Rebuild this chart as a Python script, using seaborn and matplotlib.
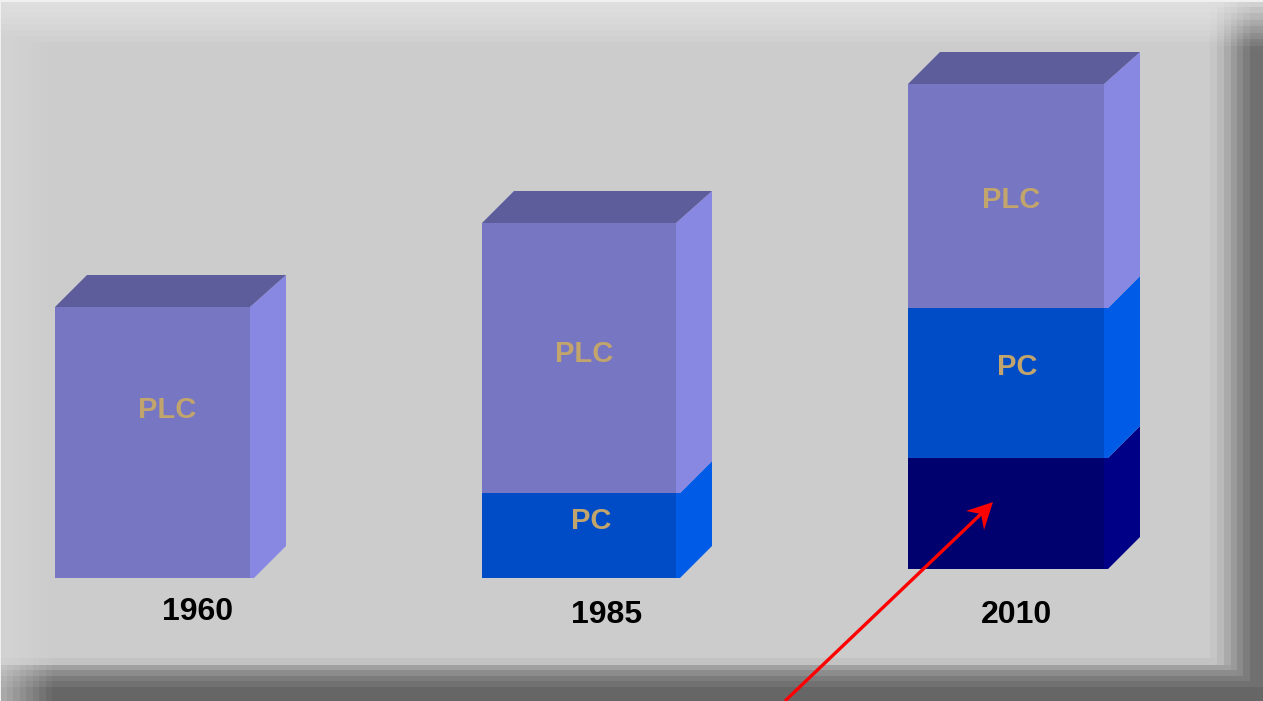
import numpy as np
import pandas as pd
import matplotlib
matplotlib.use("Agg")
import matplotlib.pyplot as plt
from matplotlib.patches import Polygon
import seaborn as sns

# ---- data (unit = one pixel of height)
years = ["1960", "1985", "2010"]
plc_values = [271, 270, 224]
pc_values = [0, 85, 150]
new_values = [0, 0, 111]
segment_names = ["new", "PC", "PLC"]

# ---- layout and style
W, H = 1263, 701
lefts = [55, 482, 908]
bar_widths = [195, 194, 196]
baselines = [578, 578, 569]
year_xy = [(198, 612), (606.5, 615), (1016, 615)]
label_xy = {("1960", "PLC"): (167.5, 410), ("1985", "PLC"): (584.5, 354), ("1985", "PC"): (591, 521),
            ("2010", "PLC"): (1011, 200), ("2010", "PC"): (1017.5, 367)}
front = {"PLC": "#7676C3", "PC": "#004CC6", "new": "#00006E"}
side = {"PLC": "#8888E3", "PC": "#005BE6", "new": "#000086"}
top_col = "#5D5D9B"
label_col = "#C2A56C"
strip, depth_x, depth_y = 4, 32, 32

sns.set_theme(style="white")
plt.rcParams["font.family"] = ["Liberation Sans", "DejaVu Sans"]

fig = plt.figure(figsize=(W / 100, H / 100), dpi=100)
ax = fig.add_axes([0, 0, 1, 1])

# ---- bevelled backdrop


def band(dist, edges, amounts):
    out = np.zeros_like(dist, dtype=float)
    for e, a in zip(edges, amounts):
        out[dist < e] = a
    return out


xx, yy = np.meshgrid(np.arange(W), np.arange(H))
base = 204.0
lt = band(yy, [42, 36, 30, 24, 18, 12, 6], [4, 7, 10, 13, 15, 17, 18])
ll = band(xx, [47, 40, 33, 26, 19, 12, 6], [1, 2, 3, 4, 5, 6, 6])
dr = band(W - 1 - xx, [53, 46, 39, 32, 26, 20, 13], [6, 18, 34, 50, 66, 80, 92])
db = band(H - 1 - yy, [43, 36, 31, 25, 20, 14], [8, 44, 64, 80, 90, 102])
# shadows fade in steps towards the lit corners
fade_r = 0.15 + 0.85 * np.minimum(yy // 6.5 * 6.5, 46) / 46
fade_b = 0.4 + 0.6 * np.minimum(xx // 6.5 * 6.5, 50) / 50
img = base + np.maximum(lt, ll) - np.maximum(dr * fade_r, db * fade_b)
img[:2, :] = 240
img[:, :1] = 240
ax.imshow(img, cmap="gray", vmin=0, vmax=255, extent=(0, W, 0, H), aspect="auto", zorder=0, interpolation="nearest")

# ---- stacked blocks
df = pd.DataFrame({"year": years, "new": new_values, "PC": pc_values, "PLC": plc_values})
df["left"] = lefts
df["w"] = bar_widths
df["base"] = [H - b for b in baselines]

for _, row in df.iterrows():
    bottom = row["base"]
    left, right = row["left"], row["left"] + row["w"]
    center = (left + right) / 2
    for name in segment_names:
        h = row[name]
        if h <= 0:
            continue
        sns.barplot(x=[center], y=[h], native_scale=True, width=row["w"], bottom=bottom,
                    color=front[name], saturation=1, linewidth=0, ax=ax, zorder=3)
        top = bottom + h
        outline = [(right, top), (right + strip + depth_x, top + depth_y),
                   (right + strip + depth_x, bottom + depth_y), (right + strip, bottom), (right, bottom)]
        if name != "PLC":
            outline.insert(1, (right + strip, top))
        ax.add_patch(Polygon(outline, closed=True, fc=side[name], ec="none", zorder=2))
        bottom = top
    ax.add_patch(Polygon([(left, bottom), (left + depth_x, bottom + depth_y),
                          (right + strip + depth_x, bottom + depth_y), (right, bottom)],
                         closed=True, fc=top_col, ec="none", zorder=2.5))

# ---- texts
for (year, seg), (x, y) in label_xy.items():
    ax.text(x, H - y, seg, color=label_col, fontsize=21, fontweight="bold", ha="center", va="center", zorder=5)
for year, (x, y) in zip(years, year_xy):
    ax.text(x, H - y, year, color="black", fontsize=23, fontweight="bold", ha="center", va="center", zorder=5)

# ---- arrow
tip = (993, H - 502)
ax.plot([785, 982], [0, H - 513], color="#FF0000", lw=2.4, zorder=6, solid_capstyle="butt")
ax.add_patch(Polygon([tip, (966, H - 511), (981, H - 514), (984, H - 530)], closed=True, fc="#FF0000", ec="none", zorder=6))

ax.set_xlim(0, W)
ax.set_ylim(0, H)
ax.axis("off")
fig.savefig("out.png", dpi=100)
